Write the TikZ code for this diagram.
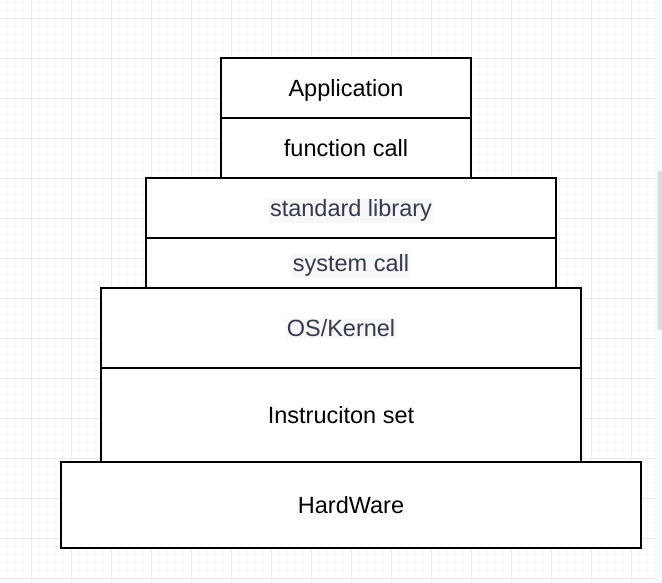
\documentclass[tikz,border=0pt]{standalone}
\usepackage{fontspec}
\setmainfont{Liberation Sans}
\usepackage{tikz}

\definecolor{gridmajor}{RGB}{235,235,235}
\definecolor{gridminor}{RGB}{247,247,247}
\definecolor{slatetext}{RGB}{54,58,78}
\definecolor{hlback}{RGB}{247,247,247}
\definecolor{bartrack}{RGB}{248,249,250}
\definecolor{barthumb}{RGB}{218,220,224}

\newcommand{\hltext}[1]{{\setlength{\fboxsep}{1pt}\colorbox{hlback}{\textcolor{slatetext}{#1}}}}

\begin{document}
\begin{tikzpicture}[x=1pt, y=-1pt,
    layer/.style={draw, fill=white, line width=1.2pt, inner sep=0pt,
                  text height=21.4pt, text depth=4pt,
                  font=\fontsize{23.5}{26}\selectfont}]
    %ここにTikZのコマンドを記述します。
    \useasboundingbox (0,0) rectangle (662,582);
    % 背景のグリッド
    \foreach \k in {-4,...,83} {
        \draw[gridminor, line width=0.6pt] ({31.7+8*\k},0) -- ({31.7+8*\k},582);
    }
    \foreach \k in {-3,...,72} {
        \draw[gridminor, line width=0.6pt] (0,{18.3+8*\k}) -- (662,{18.3+8*\k});
    }
    \foreach \k in {-1,...,16} {
        \draw[gridmajor, line width=1pt] ({31.7+40*\k},0) -- ({31.7+40*\k},582);
    }
    \foreach \k in {0,...,14} {
        \draw[gridmajor, line width=1pt] (0,{18.3+40*\k}) -- (662,{18.3+40*\k});
    }
    % 層
    \node[layer, minimum width=250, minimum height=60] (app) at (346,88) {Application};
    \node[layer, minimum width=250, minimum height=60] (func) at (346,148) {function call};
    \node[layer, minimum width=410, minimum height=60] (stdlib) at (351,208) {\hltext{standard library}};
    \node[layer, minimum width=410, minimum height=50] (syscall) at (351,263) {\hltext{system call}};
    \node[layer, minimum width=480, minimum height=80] (kernel) at (341,328) {\hltext{OS/Kernel}};
    \node[layer, minimum width=480, minimum height=94] (isa) at (341,415) {Instruciton set};
    \node[layer, minimum width=580, minimum height=86] (hw) at (351,505) {HardWare};
    % スクロールバー
    \fill[bartrack] (655,0) rectangle (662,582);
    \fill[barthumb, rounded corners=2pt] (657.5,171) rectangle (663,330);
\end{tikzpicture}
\end{document}
